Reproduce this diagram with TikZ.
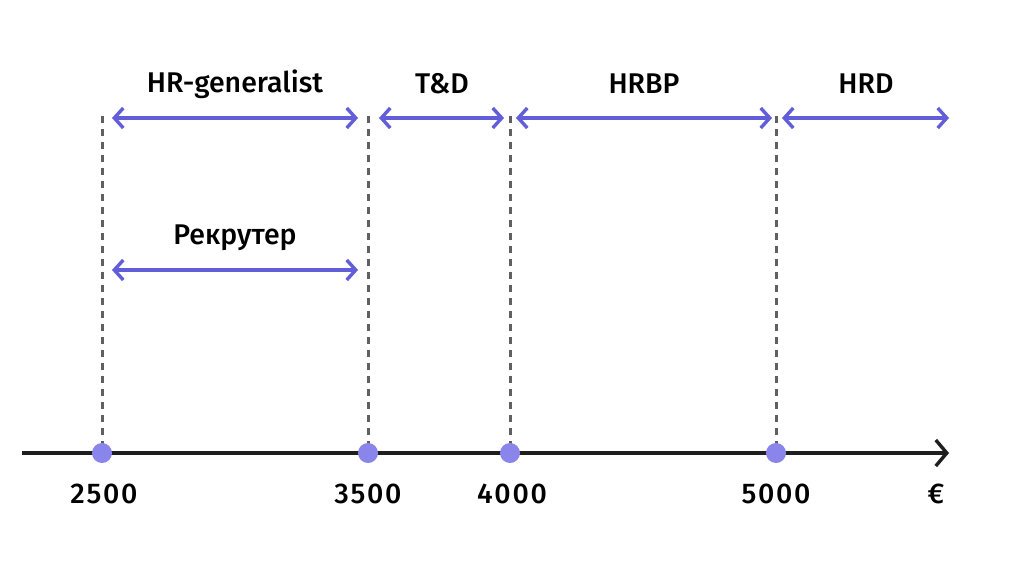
\documentclass[tikz,border=0pt]{standalone}
\usepackage{fontspec}
\setmainfont{Fira Sans}[UprightFont=* Medium]
\usetikzlibrary{arrows.meta}
\definecolor{arrowc}{HTML}{625DD8}
\definecolor{dotc}{HTML}{8A85EA}
\definecolor{dashc}{HTML}{606060}
\definecolor{axisc}{HTML}{1E1E1E}
\tikzset{
  rangearrow/.style={draw=arrowc, line width=3.4pt, {Straight Barb[length=9pt,width=20pt,line width=3.4pt]}-{Straight Barb[length=9pt,width=20pt,line width=3.4pt]}},
  guide/.style={draw=dashc, line width=3pt, dash pattern=on 7pt off 6pt},
  dot/.style={circle, fill=dotc, inner sep=0pt, minimum size=20pt},
  lbl/.style={font=\fontsize{28.5}{32}\selectfont, text=black, inner sep=0pt},
  numlbl/.style={font=\fontsize{28.5}{32}\selectfont\addfontfeature{LetterSpace=6}, text=black, inner sep=0pt},
  axisline/.style={draw=axisc, line width=3.4pt, -{Straight Barb[length=11pt,width=26pt,line width=3.4pt]}}
}
\begin{document}
\begin{tikzpicture}[x=1pt,y=-1pt]
\useasboundingbox (0,0) rectangle (1024,586);
% guide line tops
\coordinate (t1) at (102,116);
\coordinate (t2) at (368,116);
\coordinate (t3) at (510,116);
\coordinate (t4) at (776,116);
% axis
\coordinate (a0) at (22,453);
\coordinate (a1) at (949,453);
\draw[guide] (t1) -- (102,453);
\draw[guide] (t2) -- (368,453);
\draw[guide] (t3) -- (510,453);
\draw[guide] (t4) -- (776,453);
\draw[axisline] (a0) -- (a1);
\node[dot] (d1) at (102,453) {};
\node[dot] (d2) at (368,453) {};
\node[dot] (d3) at (510,453) {};
\node[dot] (d4) at (776,453) {};
% ranges
\coordinate (r1a) at (112,118); \coordinate (r1b) at (358,118);
\coordinate (r2a) at (379,118); \coordinate (r2b) at (504,118);
\coordinate (r3a) at (516,118); \coordinate (r3b) at (772,118);
\coordinate (r4a) at (782,118); \coordinate (r4b) at (949,118);
\coordinate (r5a) at (112,270); \coordinate (r5b) at (358,270);
\draw[rangearrow] (r1a) -- (r1b);
\draw[rangearrow] (r2a) -- (r2b);
\draw[rangearrow] (r3a) -- (r3b);
\draw[rangearrow] (r4a) -- (r4b);
\draw[rangearrow] (r5a) -- (r5b);
% labels
\node[lbl] (l1) at (235,84) {HR-generalist};
\node[lbl] (l2) at (442,84) {T\&D};
\node[lbl] (l3) at (644,84) {HRBP};
\node[lbl] (l4) at (866,84) {HRD};
\node[lbl] (l5) at (235,238) {Рекрутер};
\node[numlbl] (n1) at (104,494) {2500};
\node[numlbl] (n2) at (368,494) {3500};
\node[numlbl] (n3) at (512,494) {4000};
\node[numlbl] (n4) at (776,494) {5000};
\node[lbl] (n5) at (936,494) {€};
\end{tikzpicture}
\end{document}
